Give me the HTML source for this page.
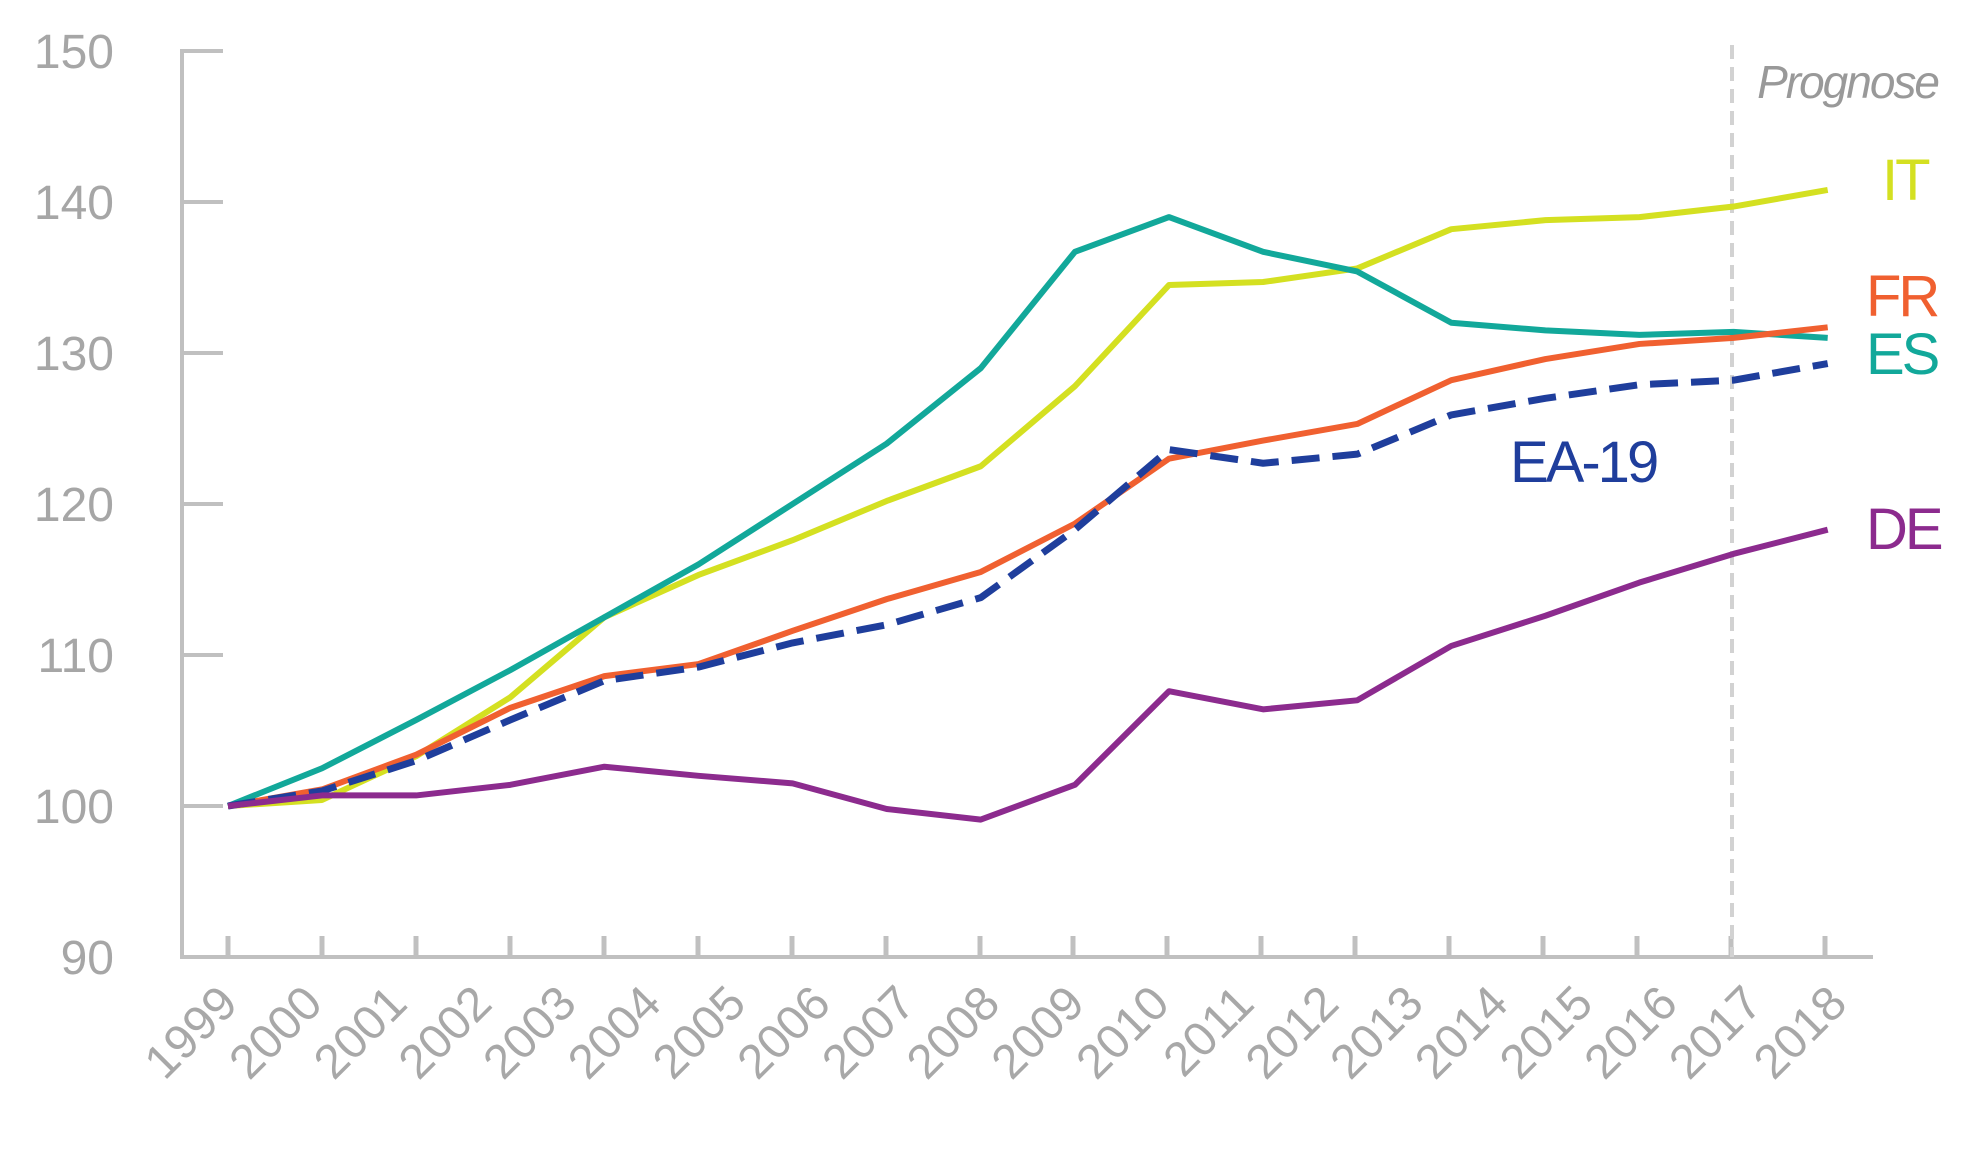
<!DOCTYPE html>
<html><head><meta charset="utf-8"><style>
html,body{margin:0;padding:0;background:#fff;}
svg{display:block;}
text{font-family:"Liberation Sans",sans-serif;}
</style></head><body>
<svg width="1970" height="1151" viewBox="0 0 1970 1151" xmlns="http://www.w3.org/2000/svg">
<g stroke="#c0c0c0" stroke-width="4" fill="none">
<line x1="182" y1="49" x2="182" y2="959"/>
<line x1="180" y1="957" x2="1873" y2="957"/>
<line x1="182" y1="51" x2="223" y2="51"/>
<line x1="182" y1="202" x2="223" y2="202"/>
<line x1="182" y1="353" x2="223" y2="353"/>
<line x1="182" y1="504" x2="223" y2="504"/>
<line x1="182" y1="655" x2="223" y2="655"/>
<line x1="182" y1="806" x2="223" y2="806"/>
<g stroke-width="5">
<line x1="228" y1="936" x2="228" y2="957"/><line x1="322" y1="936" x2="322" y2="957"/><line x1="416" y1="936" x2="416" y2="957"/><line x1="510" y1="936" x2="510" y2="957"/><line x1="604" y1="936" x2="604" y2="957"/><line x1="698" y1="936" x2="698" y2="957"/><line x1="792" y1="936" x2="792" y2="957"/><line x1="886" y1="936" x2="886" y2="957"/><line x1="980" y1="936" x2="980" y2="957"/><line x1="1073" y1="936" x2="1073" y2="957"/><line x1="1167" y1="936" x2="1167" y2="957"/><line x1="1261" y1="936" x2="1261" y2="957"/><line x1="1355" y1="936" x2="1355" y2="957"/><line x1="1449" y1="936" x2="1449" y2="957"/><line x1="1543" y1="936" x2="1543" y2="957"/><line x1="1637" y1="936" x2="1637" y2="957"/><line x1="1731" y1="936" x2="1731" y2="957"/><line x1="1825" y1="936" x2="1825" y2="957"/>
</g>
</g>
<line x1="1732" y1="45" x2="1732" y2="957" stroke="#d2d2d2" stroke-width="4" stroke-dasharray="14 8"/>
<g fill="#a6a6a6" font-size="48" text-anchor="end">
<text x="114" y="68">150</text><text x="114" y="219">140</text><text x="114" y="370">130</text><text x="114" y="521">120</text><text x="114" y="672">110</text><text x="114" y="823">100</text><text x="114" y="974">90</text>
</g>
<g fill="#a8a8a8" font-size="48" text-anchor="end">
<text transform="translate(240,1006) rotate(-45)">1999</text>
<text transform="translate(324.7,1006) rotate(-45)">2000</text>
<text transform="translate(409.4,1006) rotate(-45)">2001</text>
<text transform="translate(494.1,1006) rotate(-45)">2002</text>
<text transform="translate(578.8,1006) rotate(-45)">2003</text>
<text transform="translate(663.5,1006) rotate(-45)">2004</text>
<text transform="translate(748.2,1006) rotate(-45)">2005</text>
<text transform="translate(832.9,1006) rotate(-45)">2006</text>
<text transform="translate(917.6,1006) rotate(-45)">2007</text>
<text transform="translate(1002.3,1006) rotate(-45)">2008</text>
<text transform="translate(1087,1006) rotate(-45)">2009</text>
<text transform="translate(1171.7,1006) rotate(-45)">2010</text>
<text transform="translate(1256.4,1006) rotate(-45)">2011</text>
<text transform="translate(1341.1,1006) rotate(-45)">2012</text>
<text transform="translate(1425.8,1006) rotate(-45)">2013</text>
<text transform="translate(1510.5,1006) rotate(-45)">2014</text>
<text transform="translate(1595.2,1006) rotate(-45)">2015</text>
<text transform="translate(1679.9,1006) rotate(-45)">2016</text>
<text transform="translate(1764.6,1006) rotate(-45)">2017</text>
<text transform="translate(1849.3,1006) rotate(-45)">2018</text>
</g>
<g transform="translate(228,957) scale(94.1,-15.1) translate(0,-90)" fill="none" stroke-linejoin="round">
<polyline vector-effect="non-scaling-stroke" stroke="#d4e021" stroke-width="6" points="0,100 1,100.4 2,103.3 3,107.2 4,112.5 5,115.3 6,117.6 7,120.2 8,122.5 9,127.8 10,134.5 11,134.7 12,135.6 13,138.2 14,138.8 15,139 16,139.7 17,140.8"/>
<polyline vector-effect="non-scaling-stroke" stroke="#12a89a" stroke-width="6" points="0,100 1,102.5 2,105.7 3,109 4,112.5 5,116 6,120 7,124 8,129 9,136.7 10,139 11,136.7 12,135.4 13,132 14,131.5 15,131.2 16,131.4 17,131"/>
<polyline vector-effect="non-scaling-stroke" stroke="#f06030" stroke-width="6" points="0,100 1,101.1 2,103.4 3,106.5 4,108.6 5,109.4 6,111.6 7,113.7 8,115.5 9,118.7 10,123 11,124.2 12,125.3 13,128.2 14,129.6 15,130.6 16,131 17,131.7"/>
<polyline vector-effect="non-scaling-stroke" stroke="#1f3e9c" stroke-width="7" stroke-dasharray="28 13" points="0,100 1,101 2,103 3,105.7 4,108.3 5,109.2 6,110.8 7,112 8,113.8 9,118.3 10,123.6 11,122.7 12,123.3 13,125.9 14,127 15,127.9 16,128.2 17,129.3"/>
<polyline vector-effect="non-scaling-stroke" stroke="#8c2b8e" stroke-width="6" points="0,100 1,100.7 2,100.7 3,101.4 4,102.6 5,102 6,101.5 7,99.8 8,99.1 9,101.4 10,107.6 11,106.4 12,107 13,110.6 14,112.6 15,114.8 16,116.7 17,118.3"/>
</g>
<text x="1938" y="98" font-size="46" font-style="italic" fill="#999" text-anchor="end" letter-spacing="-2">Prognose</text>
<g font-size="58" letter-spacing="-3">
<text x="1882" y="200" fill="#d4e021">IT</text>
<text x="1866" y="316" fill="#f06030">FR</text>
<text x="1866" y="374" fill="#12a89a">ES</text>
<text x="1510" y="482" fill="#1f3e9c">EA-19</text>
<text x="1866" y="549" fill="#8c2b8e">DE</text>
</g>
</svg>
</body></html>
